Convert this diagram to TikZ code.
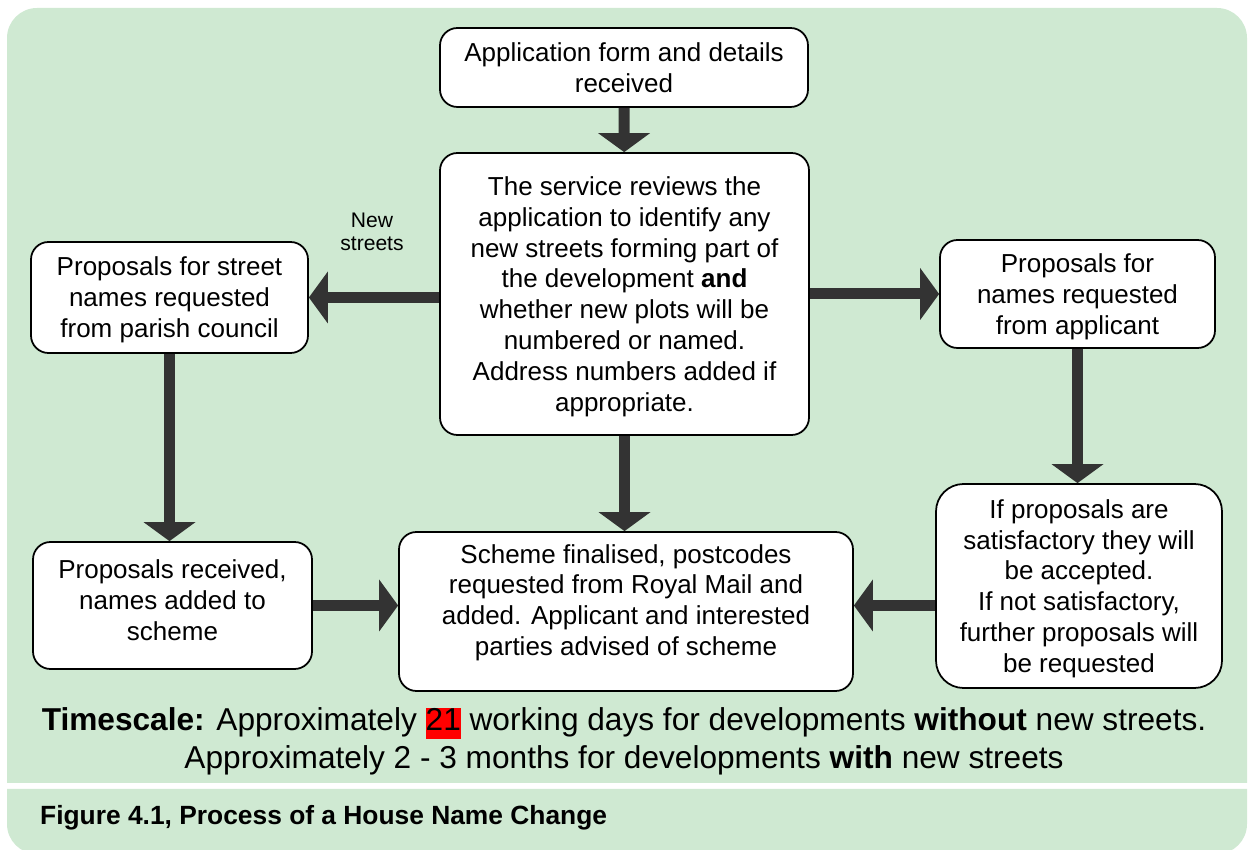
\documentclass[tikz,border=0pt]{standalone}
\usepackage{fontspec}
\setmainfont{Liberation Sans}
\usepackage{xcolor}
\usetikzlibrary{arrows.meta}

\begin{document}
\begin{tikzpicture}[
  stepbox/.style={draw=black, line width=1pt, fill=white, rounded corners=0.35cm,
    align=center, inner sep=0pt, text depth=-6pt, font=\fontsize{14.8}{17.6}\selectfont},
  flow/.style={draw=arrowgray, line width=0.22cm,
    -{Triangle[width=1.04cm, length=0.38cm, line width=0pt]}}
]

% Define colors
\definecolor{panelgreen}{RGB}{207,233,210}
\definecolor{arrowgray}{RGB}{51,51,51}

\useasboundingbox (0,0) rectangle (25.02,17);

% Background panels
\fill[panelgreen] (0.14,1.34) [rounded corners=0.6cm] -- (0.14,16.84) -- (24.94,16.84) [sharp corners] -- (24.94,1.34) -- cycle;
\fill[panelgreen] (24.94,1.22) -- (0.14,1.22) [rounded corners=0.6cm] -- (0.14,-0.08) -- (24.94,-0.08) [sharp corners] -- (24.94,1.22) -- cycle;

% Process boxes
\node[stepbox, minimum width=7.36cm, minimum height=1.58cm] (app) at (12.48,15.65)
  {Application form and details\\received};
\node[stepbox, text depth=-12pt, minimum width=7.38cm, minimum height=5.64cm] (review) at (12.49,11.12)
  {The service reviews the\\application to identify any\\new streets forming part of\\the development \textbf{and}\\whether new plots will be\\numbered or named.\\Address numbers added if\\appropriate.};
\node[stepbox, minimum width=5.54cm, minimum height=2.22cm] (parish) at (3.39,11.05)
  {Proposals for street\\names requested\\from parish council};
\node[stepbox, text depth=-12pt, minimum width=5.50cm, minimum height=2.16cm] (applicant) at (21.55,11.12)
  {Proposals for\\names requested\\from applicant};
\node[stepbox, rounded corners=0.55cm, minimum width=5.72cm, minimum height=4.08cm] (satisf) at (21.58,5.28)
  {If proposals are\\satisfactory they will\\be accepted.\\If not satisfactory,\\further proposals will\\be requested};
\node[stepbox, text depth=0.2cm, minimum width=5.58cm, minimum height=2.54cm] (received) at (3.45,4.89)
  {Proposals received,\\names added to\\scheme};
\node[stepbox, text depth=0.46cm, minimum width=9.08cm, minimum height=3.18cm] (scheme) at (12.52,4.77)
  {Scheme finalised, postcodes\\requested from Royal Mail and\\added. Applicant and interested\\parties advised of scheme};

% Label on the left branch
\node[align=center, font=\fontsize{12}{13}\selectfont] (newlabel) at (7.44,12.36) {New\\streets};

% Connectors
\draw[flow] (app) -- (review);
\draw[flow] (review.west |- parish.east) -- (parish.east);
\draw[flow] (review.east |- applicant.west) -- (applicant.west);
\draw[flow] (review.south) -- (review.south |- scheme.north);
\draw[flow] (parish.south) -- (parish.south |- received.north);
\draw[flow] (applicant.south) -- (applicant.south |- satisf.north);
\draw[flow] (received.east) -- (received.east -| scheme.west);
\draw[flow] (satisf.west |- received.east) -- (scheme.east |- received.east);

% Timescale note
\node[align=center, font=\fontsize{18}{21.5}\selectfont] (timescale) at (12.48,2.18)
  {\textbf{Timescale:} Approximately {\setlength{\fboxsep}{0pt}\colorbox{red}{\rule[-0.18cm]{0pt}{0.56cm}21}} working days for developments \textbf{without} new streets.\\
   Approximately 2 - 3 months for developments \textbf{with} new streets};

% Caption
\node[anchor=base west, font=\fontsize{15}{18}\selectfont\bfseries] (caption) at (0.68,0.5)
  {Figure 4.1, Process of a House Name Change};

\end{tikzpicture}
\end{document}
